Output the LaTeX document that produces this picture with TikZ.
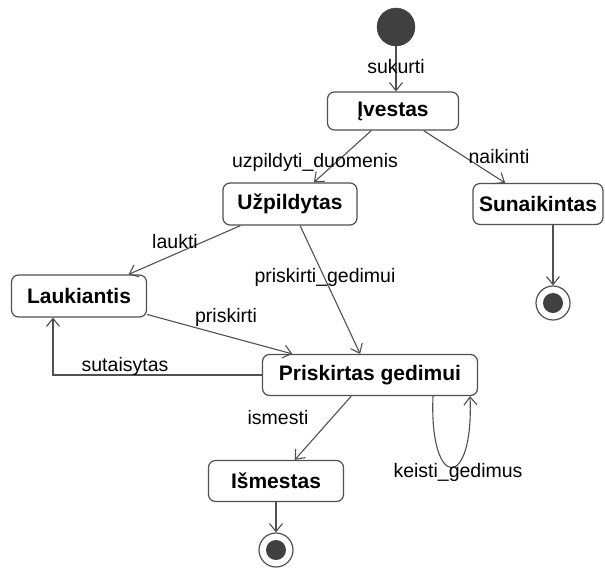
\documentclass[tikz,border=0pt]{standalone}
\usepackage{fontspec}
\setmainfont{Liberation Sans}
\usetikzlibrary{arrows.meta,calc}
\definecolor{edge}{HTML}{505050}
\definecolor{blob}{HTML}{404040}
\tikzset{
  state/.style={draw=edge, line width=1.2pt, rounded corners=7pt, fill=white,
    font=\fontsize{21}{24}\selectfont\bfseries, inner sep=0pt, text=black},
  trans/.style={draw=edge, line width=1.1pt,
    -{Straight Barb[length=8pt,width=13pt,line width=1.1pt]}},
  lbl/.style={font=\fontsize{19.5}{22}\selectfont, inner sep=0pt, text=black},
  initst/.style={circle, fill=blob, draw=blob, minimum size=38pt, inner sep=0pt},
  finalst/.style={circle, draw=edge, line width=1.2pt, fill=white,
    minimum size=34pt, inner sep=0pt,
    path picture={\fill[blob] (path picture bounding box.center) circle (10pt);}}
}
\begin{document}
\begin{tikzpicture}[x=1pt,y=-1pt]
\useasboundingbox (0,0) rectangle (605,571);

% states
\node[initst] (init) at (396,27) {};
\node[state, minimum width=131pt, minimum height=38pt] (iv) at (393,111) {Įvestas};
\node[state, minimum width=134pt, minimum height=42pt] (uzp) at (290,204) {Užpildytas};
\node[state, minimum width=130pt, minimum height=41pt] (sun) at (538,204) {Sunaikintas};
\node[state, minimum width=135pt, minimum height=42pt] (lauk) at (79,296) {Laukiantis};
\node[state, minimum width=215pt, minimum height=41pt] (pg) at (370,375) {Priskirtas gedimui};
\node[state, minimum width=135pt, minimum height=41pt] (ism) at (276,481) {Išmestas};
\node[finalst] (fin1) at (553,303) {};
\node[finalst] (fin2) at (276,550) {};

% transitions
\draw[trans] (init.south) -- (init.south |- iv.north);
\draw[trans] (iv) -- (uzp);
\draw[trans] (iv) -- (sun);
\draw[trans] (uzp) -- (lauk);
\draw[trans] (uzp) -- (pg);
\draw[trans] (lauk) -- (pg);
\draw[trans] (pg.west) -| ([xshift=-26pt]lauk.south);
\draw[trans] (pg) -- (ism);
\draw[trans] (sun.south -| fin1) -- (fin1);
\draw[trans] (ism) -- (fin2);
\draw[trans] ([xshift=63pt]pg.south) .. controls +(-4,95) and +(4,95) .. ([xshift=100pt]pg.south);

% transition labels
\node[lbl] (lsuk) at (396,67) {sukurti};
\node[lbl] (luzp) at (315,162) {uzpildyti\_duomenis};
\node[lbl] (lnaik) at (499,157) {naikinti};
\node[lbl] (llauk) at (175,242) {laukti};
\node[lbl] (lpg) at (325,277) {priskirti\_gedimui};
\node[lbl] (lpr) at (226,317) {priskirti};
\node[lbl] (lsut) at (125,366) {sutaisytas};
\node[lbl] (lism) at (278,418) {ismesti};
\node[lbl] (lkei) at (458,472) {keisti\_gedimus};
\end{tikzpicture}
\end{document}
